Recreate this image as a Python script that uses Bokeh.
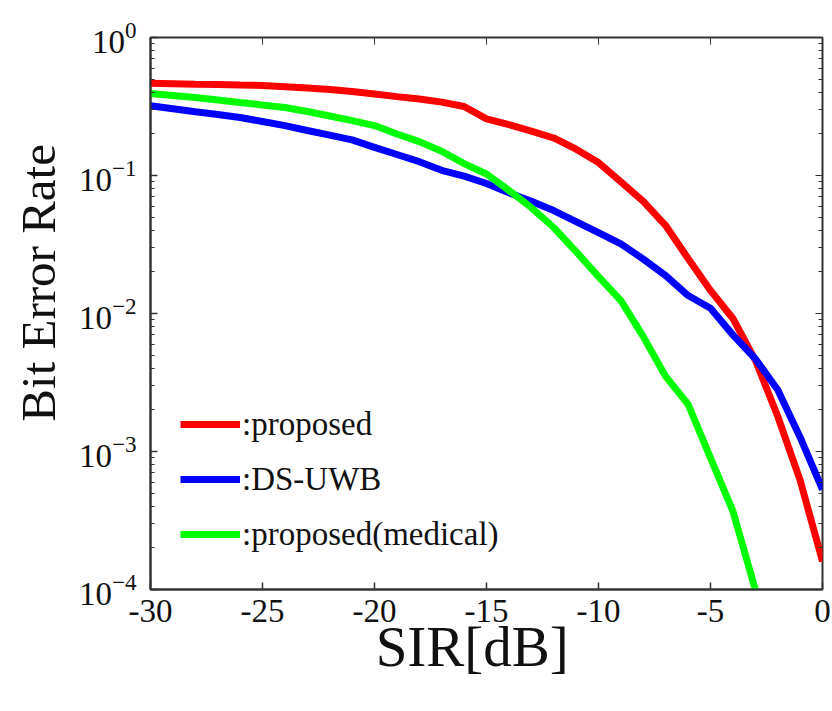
from bokeh.plotting import figure
from bokeh.models import (Legend, LegendItem, LogAxis, LinearAxis, LogTickFormatter,
                          FixedTicker, LogTicker, Range1d, CustomJSTickFormatter)
from bokeh.embed import file_html
from bokeh.resources import INLINE

# ---------------- data ----------------
sir_db = [-30, -29, -28, -27, -26, -25, -24, -23, -22, -21, -20, -19, -18, -17, -16,
          -15, -14, -13, -12, -11, -10, -9, -8, -7, -6, -5, -4, -3, -2, -1, 0]

ber_proposed = [0.467, 0.463, 0.459, 0.456, 0.452, 0.449, 0.44, 0.43, 0.42, 0.406,
                0.39, 0.373, 0.358, 0.34, 0.316, 0.257, 0.234, 0.21, 0.187, 0.155,
                0.124, 0.09, 0.065, 0.0434, 0.025, 0.0147, 0.0092, 0.0046, 0.0018,
                0.00062, 0.00016]

ber_ds_uwb = [0.32, 0.305, 0.29, 0.277, 0.263, 0.246, 0.23, 0.212, 0.196, 0.181,
              0.16, 0.142, 0.126, 0.109, 0.099, 0.0875, 0.075, 0.065, 0.0557, 0.0464,
              0.0386, 0.032, 0.0248, 0.0188, 0.0135, 0.0109, 0.007, 0.0047, 0.0028,
              0.00127, 0.00053]

sir_medical = [-30, -29, -28, -27, -26, -25, -24, -23, -22, -21, -20, -19, -18, -17,
               -16, -15, -14, -13, -12, -11, -10, -9, -8, -7, -6, -5, -4, -3]
ber_medical = [0.393, 0.38, 0.367, 0.353, 0.338, 0.324, 0.311, 0.291, 0.27, 0.25,
               0.23, 0.2, 0.176, 0.15, 0.122, 0.1025, 0.078, 0.0586, 0.042, 0.0281,
               0.0185, 0.0124, 0.0068, 0.0035, 0.0022, 0.0009, 0.00037, 0.0001]

series_labels = [":proposed", ":DS-UWB", ":proposed(medical)"]
series_colors = ["#ff0000", "#0000ff", "#00ff00"]

x_ticks = [-30, -25, -20, -15, -10, -5, 0]
x_tick_labels = ["-30", "-25", "-20", "-15", "-10", "-5", "0"]

NB = "\u00a0"
x_title = "SIR[dB]" + NB * 2
y_title = NB * 5 + "Bit Error Rate"

FONT = "Liberation Serif"
AXC = "#333333"
TXT = "#111111"

p = figure(width=832, height=711, y_axis_type="log",
           x_range=Range1d(-30, 0), y_range=Range1d(1e-4, 1),
           output_backend="svg", toolbar_location=None,
           min_border_left=150, min_border_right=10,
           min_border_top=37, min_border_bottom=122)
p.background_fill_color = "white"
p.border_fill_color = "white"
p.outline_line_color = AXC
p.outline_line_width = 2
p.xgrid.visible = False
p.ygrid.visible = False

r1 = p.line(sir_db, ber_proposed, line_color=series_colors[0], line_width=7)
r2 = p.line(sir_db, ber_ds_uwb, line_color=series_colors[1], line_width=7)
r3 = p.line(sir_medical, ber_medical, line_color=series_colors[2], line_width=7)

blank = CustomJSTickFormatter(code="return ' ';")

# x axis (bottom)
xa = p.xaxis[0]
xa.ticker = FixedTicker(ticks=x_ticks)
xa.major_label_overrides = dict(zip(x_ticks, x_tick_labels))
xa.axis_line_color = AXC
xa.axis_line_width = 2
xa.major_tick_in = 7
xa.major_tick_out = 0
xa.major_tick_line_color = AXC
xa.major_tick_line_width = 1.5
xa.minor_tick_line_color = None
xa.major_label_text_font = FONT
xa.major_label_text_font_size = "33px"
xa.major_label_text_color = TXT
xa.major_label_standoff = 10
xa.axis_label = x_title
xa.axis_label_text_font = FONT
xa.axis_label_text_font_style = "normal"
xa.axis_label_text_font_size = "57px"
xa.axis_label_text_color = TXT
xa.axis_label_standoff = -10

# y axis (left)
ya = p.yaxis[0]
ya.ticker = LogTicker(num_minor_ticks=10)
ya.formatter = LogTickFormatter()
ya.axis_line_color = AXC
ya.axis_line_width = 2
ya.major_tick_in = 7
ya.major_tick_out = 0
ya.minor_tick_in = 4
ya.minor_tick_out = 0
ya.major_tick_line_color = AXC
ya.minor_tick_line_color = AXC
ya.major_tick_line_width = 1.5
ya.major_label_text_font = FONT
ya.major_label_text_font_size = "33px"
ya.major_label_text_color = TXT
ya.major_label_standoff = 14
ya.axis_label = y_title
ya.axis_label_text_font = FONT
ya.axis_label_text_font_style = "normal"
ya.axis_label_text_font_size = "49px"
ya.axis_label_text_color = TXT
ya.axis_label_standoff = 10

# right and top tick-only axes (box style)
ra = LogAxis(ticker=LogTicker(num_minor_ticks=10), formatter=blank)
ra.axis_line_color = None
ra.major_tick_in = 7
ra.major_tick_out = 0
ra.minor_tick_in = 4
ra.minor_tick_out = 0
ra.major_tick_line_color = AXC
ra.minor_tick_line_color = AXC
ra.major_label_text_font_size = "2px"
ra.major_label_text_color = None
ra.major_label_standoff = 0
p.add_layout(ra, "right")

ta = LinearAxis(ticker=FixedTicker(ticks=x_ticks), formatter=blank)
ta.axis_line_color = None
ta.major_tick_in = 7
ta.major_tick_out = 0
ta.minor_tick_line_color = None
ta.major_tick_line_color = AXC
ta.major_label_text_font_size = "2px"
ta.major_label_text_color = None
ta.major_label_standoff = 0
p.add_layout(ta, "above")

legend = Legend(items=[LegendItem(label=series_labels[0], renderers=[r1]),
                       LegendItem(label=series_labels[1], renderers=[r2]),
                       LegendItem(label=series_labels[2], renderers=[r3])],
                location=(30, 35))
legend.background_fill_alpha = 0
legend.border_line_color = None
legend.padding = 0
legend.margin = 0
legend.glyph_width = 60
legend.glyph_height = 40
legend.label_height = 40
legend.spacing = 15
legend.label_standoff = 2
legend.label_text_font = FONT
legend.label_text_font_size = "33px"
legend.label_text_color = TXT
p.add_layout(legend)

open("out.html", "w").write(file_html(p, INLINE))
